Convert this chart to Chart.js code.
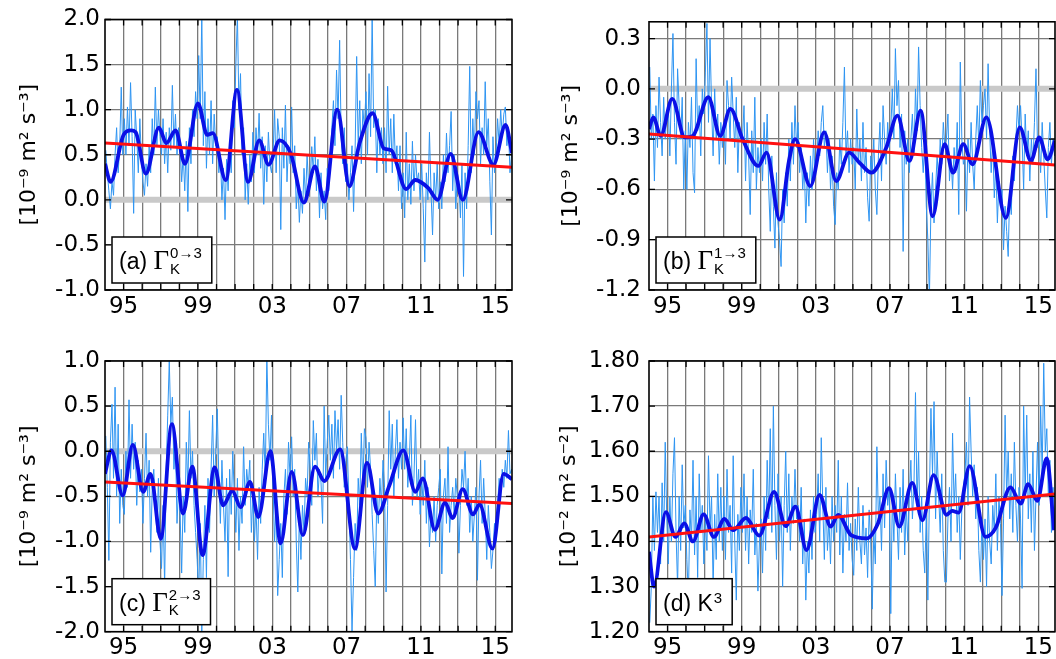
<!DOCTYPE html>
<html>
<head>
<meta charset="utf-8">
<script src="https://cdn.jsdelivr.net/npm/chart.js@4.4.1/dist/chart.umd.min.js"></script>
<style>
  body { margin: 0; background: #fff; width: 1056px; height: 659px; overflow: hidden; position: relative; }
  .panel { position: absolute; }
</style>
</head>
<body>
<div class="panel" style="left:0;top:0"><canvas id="pa" width="528" height="330"></canvas></div>
<div class="panel" style="left:528px;top:0"><canvas id="pb" width="528" height="330"></canvas></div>
<div class="panel" style="left:0;top:330px"><canvas id="pc" width="528" height="329"></canvas></div>
<div class="panel" style="left:528px;top:330px"><canvas id="pd" width="528" height="329"></canvas></div>
<script>
// monthly series start in Jan 1994, one value per month (rows = years 1994..2015)
const startYear = 1994;
const xMin = 1994, xMax = 2015.9;
const gridYears = [1995, 1996, 1997, 1998, 1999, 2000, 2001, 2002, 2003, 2004, 2005,
                   2006, 2007, 2008, 2009, 2010, 2011, 2012, 2013, 2014, 2015];
const labelYears = [1995, 1999, 2003, 2007, 2011, 2015];

// (a) Gamma_K 0->3
const aMonthly = [
  0.55, 0.3, 0.1, -0.1, 0.2, 0.05, 0.5, 0.8, 0.3, 0.6, 1.25, 0.5,
  0.9, 0.5, 1.03, 0.6, 1.3, 0.7, -0.15, 1.0, 0.7, 0.3, 0.9, 0.45,
  0.2, 0.05, 0.4, 0.15, 0.6, 0.3, 0.9, 0.5, 1.25, 0.6, 1.0, 0.7,
  0.5, 0.9, 0.4, 0.75, 0.3, 0.8, 0.55, 1.27, 0.6, 0.95, 0.5, 0.8,
  0.6, 0.2, 0.5, 0.1, 0.65, -0.13, 0.8, 0.4, 1.0, 0.7, 1.2, 0.9,
  1.6, 0.9, 2.05, 0.6, 1.2, 0.35, 0.9, 0.5, 1.1, 0.4, 0.95, 0.6,
  0.7, 0.3, 0.5, 0.0, 0.35, -0.22, 0.45, 0.1, 0.6, 0.3, 1.1, 0.8,
  1.5, 2.05, 1.0, 1.4, 0.5, 0.8, 0.0, 0.4, -0.05, 0.5, 0.2, 0.75,
  0.3, 0.8, 0.5, 0.96, 0.35, 0.7, -0.05, 0.6, 0.2, 0.75, 0.4, 0.3,
  0.5, 1.0, 0.3, 0.9, 0.7, -0.33, 0.8, 0.35, 1.05, 0.2, 0.6, 0.4,
  1.03, 0.3, 0.6, -0.1, 0.2, -0.25, 0.1, -0.15, 0.35, 0.0, 0.5, 0.15,
  0.2, 0.59, 0.3, 0.7, 0.1, 0.45, -0.2, 0.3, -0.1, 0.1, -0.22, 0.35,
  0.1, 0.5, 0.8, 1.1, 0.6, 1.44, 0.9, 1.77, 0.7, 0.4, 0.8, 0.2,
  0.4, 0.0, 0.3, 0.6, -0.13, 0.55, 1.59, 0.6, 1.1, 0.4, 1.0, 0.8,
  1.2, 0.5, 1.4, 0.7, 2.05, 0.8, 1.0, 0.3, 0.9, 0.5, 0.8, 0.4,
  0.8, 0.3, 1.26, 0.5, 0.9, 0.3, 0.95, 0.4, 0.6, 0.1, 0.6, -0.1,
  0.3, -0.2, 0.75, 0.0, 0.4, -0.05, 0.65, 0.1, 0.5, 0.2, 0.3, 0.0,
  0.4, -0.1, -0.69, 0.3, 0.0, 0.75, 0.1, -0.39, 0.3, 0.0, 0.4, -0.1,
  0.2, -0.1, 0.5, 0.2, 0.74, 0.3, 0.6, 0.98, 0.1, 0.5, -0.1, 0.3,
  0.2, -0.2, 0.4, -0.85, 0.3, -0.1, 0.6, 1.48, 0.3, 0.9, 0.5, 1.2,
  0.9, 1.1, 0.4, 0.8, 0.5, 1.31, 0.6, 0.9, 0.2, -0.39, 0.7, 0.3,
  0.5, 0.9, 0.6, 1.0, 0.7, 0.95, 1.03, 0.6, 0.8, 0.3, 0.5, 0.6
];
const aSmoothX = [1994.0, 1994.3, 1995.0, 1995.4, 1995.65, 1996.2, 1996.9, 1997.3, 1997.8, 1998.3,
  1999.0, 1999.5, 1999.8, 2000.5, 2001.1, 2001.7, 2002.3, 2002.8, 2003.4, 2004.0,
  2004.7, 2005.3, 2005.8, 2006.5, 2007.15, 2007.7, 2008.4, 2009.0, 2009.4, 2010.2,
  2010.7, 2011.4, 2011.9, 2012.6, 2013.25, 2014.1, 2014.9, 2015.55, 2015.9];
const aSmoothY = [0.40, 0.20, 0.72, 0.77, 0.75, 0.29, 0.80, 0.63, 0.77, 0.40,
  1.07, 0.72, 0.74, 0.22, 1.22, 0.20, 0.66, 0.39, 0.66, 0.51,
  -0.03, 0.37, -0.02, 1.00, 0.15, 0.63, 0.96, 0.57, 0.55, 0.12,
  0.22, 0.13, 0.00, 0.51, 0.00, 0.75, 0.39, 0.83, 0.52];
const aTrend = [0.63, 0.36];
const aTicks = [-1.0, -0.5, 0.0, 0.5, 1.0, 1.5, 2.0];

// (b) Gamma_K 1->3
const bMonthly = [
  0.13, -0.3, -0.15, -0.55, -0.1, -0.35, 0.07, -0.2, -0.4, -0.05, -0.3, -0.15,
  -0.1, -0.4, 0.0, 0.33, -0.2, -0.45, 0.12, -0.1, -0.3, -0.05, -0.6, -0.25,
  -0.6, -0.2, -0.35, -0.05, -0.5, -0.62, 0.18, -0.25, -0.1, -0.4, 0.0, -0.15,
  0.1, 0.39, -0.2, 0.3, -0.1, -0.4, 0.0, -0.3, -0.15, -0.45, -0.2, -0.35,
  -0.2, -0.45, 0.05, -0.1, -0.3, 0.07, -0.15, -0.35, -0.05, -0.5, -0.2, -0.3,
  -0.3, -0.1, -0.55, -0.2, -0.4, -0.75, -0.25, -0.5, -0.05, -0.6, -0.35, -0.5,
  -0.3, -0.55, -0.2, -0.45, -0.15, -0.6, -0.85, -0.4, -0.7, -0.95, -0.5, -0.8,
  -0.9, -1.06, -0.6, -0.8, -0.5, -0.7, -0.3, -0.55, -0.2, -0.45, -0.1, -0.35,
  -0.2, -0.5, -0.35, -0.6, -0.45, -0.8, -0.5, -0.7, -0.4, -0.6, -0.3, -0.5,
  -0.45, -0.25, -0.4, -0.2, -0.1, -0.35, -0.25, -0.5, -0.3, -0.6, -0.4, -0.7,
  -0.81, -0.5, -0.6, -0.3, -0.45, -0.2, 0.13, -0.4, -0.25, -0.5, -0.3, -0.45,
  -0.35, -0.6, -0.12, -0.45, -0.3, -0.55, -0.2, -0.5, -0.35, -0.65, -0.79, -0.4,
  -0.5, -0.3, -0.6, -0.75, -0.4, -0.2, -0.55, -0.1, -0.3, -0.45, -0.2, -0.35,
  -0.25, 0.0, -0.3, 0.24, -0.1, 0.05, -0.35, -0.15, -0.97, -0.25, -0.45, -0.3,
  -0.5, -0.3, -0.15, -0.4, 0.0, -0.25, 0.25, -0.1, -0.35, -0.5, -0.3, -0.7,
  -0.9, -1.25, -0.7, -0.5, -0.8, -0.6, -0.4, -0.55, -0.3, -0.45, -0.2, -0.35,
  -0.3, -0.15, -0.55, -0.4, -0.6, -0.35, -0.5, -0.2, -0.75, 0.16, -0.3, -0.45,
  -0.4, -0.73, -0.3, -0.5, -0.2, -0.45, -0.6, -0.3, -0.1, -0.35, 0.05, -0.2,
  -0.1, 0.0, -0.3, 0.15, -0.25, -0.5, -0.3, -0.65, -0.45, -0.8, -0.55, -0.7,
  -0.6, -0.96, -0.7, -0.85, -1.0, -0.6, -0.75, -0.4, -0.55, -0.3, -0.1, -0.25,
  -0.1, -0.3, -0.6, -0.15, -0.4, -0.25, -0.55, -0.3, -0.45, -0.2, 0.12, -0.35,
  -0.3, -0.5, -0.2, -0.4, -0.6, -0.77, -0.35, -0.2, -0.45, -0.3, -0.4, -0.35
];
const bSmoothX = [1994.0, 1994.23, 1994.63, 1995.25, 1995.93, 1996.37, 1997.2, 1997.84, 1998.39, 1999.05,
  1999.9, 2000.34, 2001.05, 2001.55, 2001.88, 2002.7, 2003.45, 2004.1, 2004.8, 2005.35,
  2006.0, 2006.8, 2007.4, 2008.05, 2008.65, 2009.3, 2009.95, 2010.4, 2010.95, 2011.45,
  2012.2, 2013.25, 2014.0, 2014.6, 2015.05, 2015.5, 2015.9];
const bSmoothY = [-0.24, -0.17, -0.28, -0.06, -0.29, -0.28, -0.05, -0.28, -0.12, -0.30,
  -0.46, -0.38, -0.78, -0.43, -0.30, -0.58, -0.26, -0.55, -0.38, -0.44,
  -0.50, -0.35, -0.16, -0.43, -0.13, -0.76, -0.33, -0.50, -0.33, -0.45,
  -0.17, -0.77, -0.23, -0.43, -0.29, -0.42, -0.31];
const bTrend = [-0.27, -0.455];
const bTicks = [-1.2, -0.9, -0.6, -0.3, 0.0, 0.3];

// (c) Gamma_K 2->3
const cMonthly = [
  0.17, -0.4, -1.21, 0.1, 0.52, -0.3, 0.71, -0.5, 0.3, -0.8, -0.2, -0.6,
  -0.7, 0.0, -0.4, 0.57, -0.3, 0.3, -0.2, 0.1, -0.6, -0.1, -0.45, -0.2,
  -0.8, -0.3, 0.2, -0.5, -0.1, -1.12, -0.4, -0.2, -0.6, -0.9, -0.3, -1.0,
  -1.3, -0.6, -1.5, -0.2, 0.4, 1.0, 0.3, 0.6, -0.2, 0.1, -0.8, -0.4,
  -0.7, -1.35, -0.5, -0.9, 0.1, -0.4, 0.45, -0.3, 0.0, -0.6, -0.9, -1.2,
  -1.6, -0.8, -2.0, -1.2, -0.6, -1.4, -0.3, -0.9, -0.2, 0.4, -0.5, 0.0,
  0.47, -0.3, -0.8, -0.1, -0.6, -1.0, -0.3, -1.39, -0.2, -0.7, 0.0, -0.5,
  -0.9, -0.3, -1.1, -0.5, -0.8, 0.05, -0.6, -0.2, -0.4, -0.1, -0.9, -0.5,
  -1.0, -0.6, -1.2, -0.4, -0.8, -0.2, 0.2, -0.3, 1.05, 0.3, -0.1, 0.4,
  -0.4, -1.0, -0.6, -1.6, -1.2, -0.8, -1.4, -0.5, -0.2, -0.7, 0.1, -0.3,
  0.16, -0.5, -0.2, -1.0, -1.56, -0.7, -1.2, -0.6, -0.9, -0.3, -0.5, 0.1,
  -0.2, -0.6, 0.34, -0.1, 0.2, -0.5, -0.2, -0.35, -0.8, 0.5, -0.3, 0.1,
  0.4, -0.1, 0.3, -0.3, 0.45, 0.0, 0.35, -0.2, 0.62, 0.1, -0.4, -0.1,
  0.05, -0.6, -1.2, -2.0, -1.4, -0.8, -1.1, -0.3, -0.6, 0.2, -0.4, 0.25,
  0.15, -0.4, 0.1, -0.2, -0.7, -1.1, -1.5, -0.5, -0.8, -0.3, -0.6, -0.1,
  -0.4, -1.56, -0.6, 0.45, -0.2, 0.3, -0.5, 0.0, 0.35, -0.3, 0.1, -0.2,
  0.37, -0.2, 0.25, -0.4, -0.1, 0.4, -0.6, -0.3, 0.35, -0.5, -0.2, -0.7,
  -0.3, -0.6, -0.1, -0.8, -0.4, -1.06, -0.7, -0.9, -0.5, -1.0, -0.6, -0.4,
  -0.2, -1.36, -0.5, -0.3, -0.8, 0.05, -0.9, -0.6, -0.4, -0.7, -0.3, -0.5,
  -1.13, -0.6, -0.2, -0.4, 0.0, -0.6, -0.3, -0.9, -0.5, -1.0, -0.7, -0.4,
  -1.43, -0.5, -0.1, -0.8, -0.3, -0.7, -1.2, -0.6, -0.9, -1.3, -1.1, -0.8,
  -1.0, -0.6, -0.3, -0.5, -0.2, -0.4, -0.1, -0.3, 0.23, -0.25, -0.2, -0.3
];
const cSmoothX = [1994.0, 1994.35, 1994.95, 1995.5, 1996.05, 1996.45, 1997.0, 1997.6, 1998.2, 1998.7,
  1999.25, 1999.9, 2000.35, 2000.85, 2001.3, 2001.8, 2002.25, 2002.9, 2003.45, 2004.05,
  2004.65, 2005.3, 2005.8, 2006.65, 2007.45, 2008.1, 2008.7, 2009.3, 2010.05, 2010.7,
  2011.1, 2011.75, 2012.3, 2012.7, 2013.25, 2013.8, 2014.15, 2014.85, 2015.45, 2015.9];
const cSmoothY = [-0.25, 0.01, -0.49, 0.07, -0.45, -0.25, -0.97, 0.30, -0.69, -0.17,
  -1.15, -0.18, -0.60, -0.44, -0.62, -0.34, -0.73, 0.00, -1.02, -0.23,
  -0.93, -0.17, -0.33, 0.02, -1.08, -0.13, -0.69, -0.38, 0.01, -0.45,
  -0.30, -0.87, -0.57, -0.74, -0.42, -0.70, -0.59, -1.08, -0.25, -0.31];
const cTrend = [-0.34, -0.58];
const cTicks = [-2.0, -1.5, -1.0, -0.5, 0.0, 0.5, 1.0];

// (d) K^3
const dMonthly = [
  1.22, 1.3, 1.5, 1.38, 1.51, 1.42, 1.5, 1.35, 1.53, 1.4, 1.62, 1.45,
  1.35, 1.5, 1.4, 1.55, 1.63, 1.42, 1.3, 1.5, 1.38, 1.57, 1.43, 1.48,
  1.36, 1.28, 1.47, 1.4, 1.58, 1.37, 1.5, 1.32, 1.55, 1.42, 1.48, 1.35,
  1.45, 1.38, 1.59, 1.43, 1.5, 1.3, 1.46, 1.36, 1.55, 1.4, 1.52, 1.38,
  1.5, 1.36, 1.56, 1.42, 1.48, 1.33, 1.59, 1.4, 1.27, 1.46, 1.38, 1.52,
  1.42, 1.55, 1.38, 1.5, 1.35, 1.47, 1.42, 1.56, 1.37, 1.44, 1.29, 1.4,
  1.45, 1.33, 1.5, 1.38, 1.58, 1.45, 1.65, 1.42, 1.7, 1.48, 1.36, 1.55,
  1.4, 1.5, 1.3, 1.48, 1.6, 1.42, 1.55, 1.38, 1.5, 1.44, 1.56, 1.45,
  1.48, 1.4, 1.52, 1.35, 1.45, 1.27, 1.4, 1.33, 1.47, 1.36, 1.5, 1.42,
  1.46, 1.55, 1.4, 1.63, 1.48, 1.36, 1.52, 1.38, 1.45, 1.35, 1.5, 1.4,
  1.48, 1.42, 1.58, 1.37, 1.5, 1.33, 1.46, 1.4, 1.53, 1.38, 1.44, 1.36,
  1.325, 1.45, 1.38, 1.52, 1.4, 1.35, 1.48, 1.37, 1.43, 1.32, 1.47, 1.4,
  1.25, 1.42, 1.35, 1.61, 1.45, 1.5, 1.38, 1.55, 1.43, 1.58, 1.48, 1.52,
  1.24, 1.5, 1.4, 1.55, 1.45, 1.36, 1.52, 1.42, 1.56, 1.37, 1.48, 1.4,
  1.5, 1.58, 1.45, 1.52, 1.73, 1.48, 1.6, 1.42, 1.5, 1.38, 1.33, 1.46,
  1.27, 1.5, 1.695, 1.55, 1.71, 1.45, 1.6, 1.5, 1.42, 1.55, 1.38, 1.31,
  1.31, 1.45, 1.52, 1.4, 1.64, 1.48, 1.55, 1.42, 1.5, 1.36, 1.47, 1.52,
  1.55, 1.62, 1.48, 1.72, 1.6, 1.5, 1.57, 1.45, 1.52, 1.38, 1.31, 1.45,
  1.36, 1.45, 1.3, 1.5, 1.4, 1.35, 1.48, 1.42, 1.55, 1.38, 1.5, 1.44,
  1.28, 1.45, 1.68, 1.5, 1.6, 1.45, 1.55, 1.42, 1.62, 1.48, 1.4, 1.52,
  1.45, 1.296, 1.7, 1.5, 1.68, 1.45, 1.55, 1.42, 1.6, 1.38, 1.5, 1.62,
  1.48, 1.7, 1.55, 1.795, 1.6, 1.65, 1.5, 1.58, 1.42, 1.52, 1.45, 1.5
];
const dSmoothX = [1994.0, 1994.27, 1994.91, 1995.43, 1995.9, 1996.37, 1996.95, 1997.5, 1998.07, 1998.54,
  1999.23, 1999.95, 2000.75, 2001.37, 2001.9, 2002.5, 2003.2, 2003.8, 2004.2, 2004.9,
  2005.75, 2006.35, 2006.95, 2007.5, 2008.2, 2008.75, 2009.35, 2010.05, 2010.35, 2010.7,
  2011.3, 2012.15, 2012.7, 2013.5, 2014.05, 2014.45, 2014.95, 2015.45, 2015.85];
const dSmoothY = [1.377, 1.300, 1.465, 1.410, 1.440, 1.400, 1.460, 1.410, 1.450, 1.425,
  1.452, 1.413, 1.510, 1.434, 1.477, 1.381, 1.503, 1.433, 1.459, 1.414,
  1.407, 1.440, 1.518, 1.433, 1.530, 1.447, 1.547, 1.459, 1.468, 1.464,
  1.567, 1.410, 1.430, 1.520, 1.484, 1.527, 1.490, 1.584, 1.425];
const dTrend = [1.41, 1.505];
const dTicks = [1.2, 1.3, 1.4, 1.5, 1.6, 1.7, 1.8];

const trendX = [xMin, xMax];
const zeroY = [0, 0];

function monthlyPoints(values) {
  return values.map((v, i) => ({ x: startYear + (i + 0.5) / 12, y: v }));
}
function pairPoints(xs, ys) {
  return xs.map((x, i) => ({ x: x, y: ys[i] }));
}

// frame, inward tick marks and the panel tag box
const framePlugin = {
  id: 'frame',
  afterDatasetsDraw(chart, args, opts) {
    const { ctx, chartArea: a } = chart;
    const xs = chart.scales.x, ys = chart.scales.y;
    ctx.save();
    ctx.strokeStyle = '#000';
    ctx.lineWidth = 1.3;
    ctx.beginPath();
    xs.ticks.forEach(t => {
      const px = xs.getPixelForValue(t.value);
      ctx.moveTo(px, a.top); ctx.lineTo(px, a.top + 6);
      ctx.moveTo(px, a.bottom); ctx.lineTo(px, a.bottom - 6);
    });
    ys.ticks.forEach(t => {
      const py = ys.getPixelForValue(t.value);
      ctx.moveTo(a.left, py); ctx.lineTo(a.left + 6, py);
      ctx.moveTo(a.right, py); ctx.lineTo(a.right - 6, py);
    });
    ctx.stroke();
    ctx.lineWidth = 1.6;
    ctx.strokeRect(a.left, a.top, a.right - a.left, a.bottom - a.top);

    const L = opts.tag;
    const fMain = '23px "Liberation Sans"';
    const fGreek = '27px "Liberation Serif"';
    const fSub = '15px "Liberation Sans"';
    const fSup = '15px "Liberation Sans"';
    ctx.font = fMain; const wMain = ctx.measureText(L.main).width;
    ctx.font = fGreek; const wGreek = L.greek ? ctx.measureText(L.greek).width : 0;
    ctx.font = fSub; const wSub = L.sub ? ctx.measureText(L.sub).width : 0;
    ctx.font = fSup; const wSup = ctx.measureText(L.sup).width;
    const textW = wMain + wGreek + Math.max(wSub, wSup) + 1;
    const bh = 46, bx = a.left + 7, by = a.bottom - 7 - bh, bw = textW + 17;
    ctx.fillStyle = '#fff';
    ctx.fillRect(bx, by, bw, bh);
    ctx.lineWidth = 1.5;
    ctx.strokeRect(bx, by, bw, bh);
    ctx.fillStyle = '#000';
    ctx.textAlign = 'left';
    ctx.textBaseline = 'alphabetic';
    let tx = bx + 7;
    const base = by + 32;
    ctx.font = fMain; ctx.fillText(L.main, tx, base); tx += wMain;
    if (L.greek) { ctx.font = fGreek; ctx.fillText(L.greek, tx, base); tx += wGreek; }
    if (L.sub) { ctx.font = fSub; ctx.fillText(L.sub, tx + 1, base + 4.5); }
    ctx.font = fSup; ctx.fillText(L.sup, tx + 1, base + L.supDy);
    ctx.restore();
  }
};

const tickFont = { family: 'DejaVu Sans', size: 23 };
const gridColor = '#7a7a7a';

function makePanel(p) {
  const datasets = [];
  if (p.zero) {
    datasets.push({ data: pairPoints(trendX, zeroY), borderColor: '#c9c9c9', borderWidth: 6, order: 4 });
  }
  datasets.push({ data: monthlyPoints(p.monthly), borderColor: '#2f95f2', borderWidth: 1, order: 3 });
  datasets.push({ data: pairPoints(p.sx, p.sy), borderColor: '#0a10e6', borderWidth: 3.8,
                  cubicInterpolationMode: 'monotone', order: 2 });
  datasets.push({ data: pairPoints(trendX, p.trend), borderColor: '#ff1010', borderWidth: 3, order: 1 });

  return new Chart(document.getElementById(p.id), {
    type: 'line',
    data: { datasets: datasets },
    plugins: [framePlugin],
    options: {
      responsive: false,
      animation: false,
      devicePixelRatio: 1,
      elements: { point: { radius: 0 }, line: { tension: 0 } },
      layout: { padding: { left: 0, top: p.padTop, right: p.padRight, bottom: 0 } },
      plugins: {
        legend: { display: false },
        tooltip: { enabled: false },
        frame: { tag: p.tag }
      },
      scales: {
        x: {
          type: 'linear',
          min: xMin,
          max: xMax,
          afterBuildTicks: s => { s.ticks = gridYears.map(v => ({ value: v })); },
          afterFit: s => { s.height = p.xH; },
          grid: { color: gridColor, lineWidth: 1.3, drawTicks: false },
          border: { display: false },
          ticks: {
            autoSkip: false, maxRotation: 0, padding: p.xPad, color: '#000', font: tickFont,
            callback: v => labelYears.includes(v) ? String(v).slice(2) : ''
          }
        },
        y: {
          type: 'linear',
          min: p.ticks[0],
          max: p.yMax,
          afterBuildTicks: s => { s.ticks = p.ticks.map(v => ({ value: v })); },
          afterFit: s => { s.width = p.yW; },
          grid: { color: gridColor, lineWidth: 1.3, drawTicks: false },
          border: { display: false },
          ticks: {
            autoSkip: false, padding: p.tickPad, color: '#000', font: tickFont,
            callback: v => v.toFixed(p.dec)
          },
          title: {
            display: true, text: p.units, color: '#000',
            font: { family: 'DejaVu Sans', size: 22 },
            padding: { top: p.titlePad, bottom: 0 }
          }
        }
      }
    }
  });
}

makePanel({ id: 'pa', monthly: aMonthly, sx: aSmoothX, sy: aSmoothY, trend: aTrend, ticks: aTicks, yMax: 2.0,
  dec: 1, zero: true, units: '[10⁻⁹ m² s⁻³]',
  tag: { main: '(a) ', greek: 'Γ', sub: 'K', sup: '0→3', supDy: -11 },
  yW: 105, padTop: 19.5, padRight: 16, xH: 40, xPad: 3, titlePad: 16, tickPad: 5 });
makePanel({ id: 'pb', monthly: bMonthly, sx: bSmoothX, sy: bSmoothY, trend: bTrend, ticks: bTicks, yMax: 0.4,
  dec: 1, zero: true, units: '[10⁻⁹ m² s⁻³]',
  tag: { main: '(b) ', greek: 'Γ', sub: 'K', sup: '1→3', supDy: -11 },
  yW: 121, padTop: 19.5, padRight: 1, xH: 40, xPad: 3, titlePad: 30, tickPad: 8 });
makePanel({ id: 'pc', monthly: cMonthly, sx: cSmoothX, sy: cSmoothY, trend: cTrend, ticks: cTicks, yMax: 1.0,
  dec: 1, zero: true, units: '[10⁻⁹ m² s⁻³]',
  tag: { main: '(c) ', greek: 'Γ', sub: 'K', sup: '2→3', supDy: -11 },
  yW: 105, padTop: 31, padRight: 16, xH: 27.3, xPad: 3, titlePad: 16, tickPad: 5 });
makePanel({ id: 'pd', monthly: dMonthly, sx: dSmoothX, sy: dSmoothY, trend: dTrend, ticks: dTicks, yMax: 1.8,
  dec: 2, zero: false, units: '[10⁻² m² s⁻²]',
  tag: { main: '(d) K', greek: '', sub: '', sup: '3', supDy: -8 },
  yW: 121, padTop: 31, padRight: 1, xH: 27.3, xPad: 3, titlePad: 28, tickPad: 9 });
</script>
</body>
</html>
